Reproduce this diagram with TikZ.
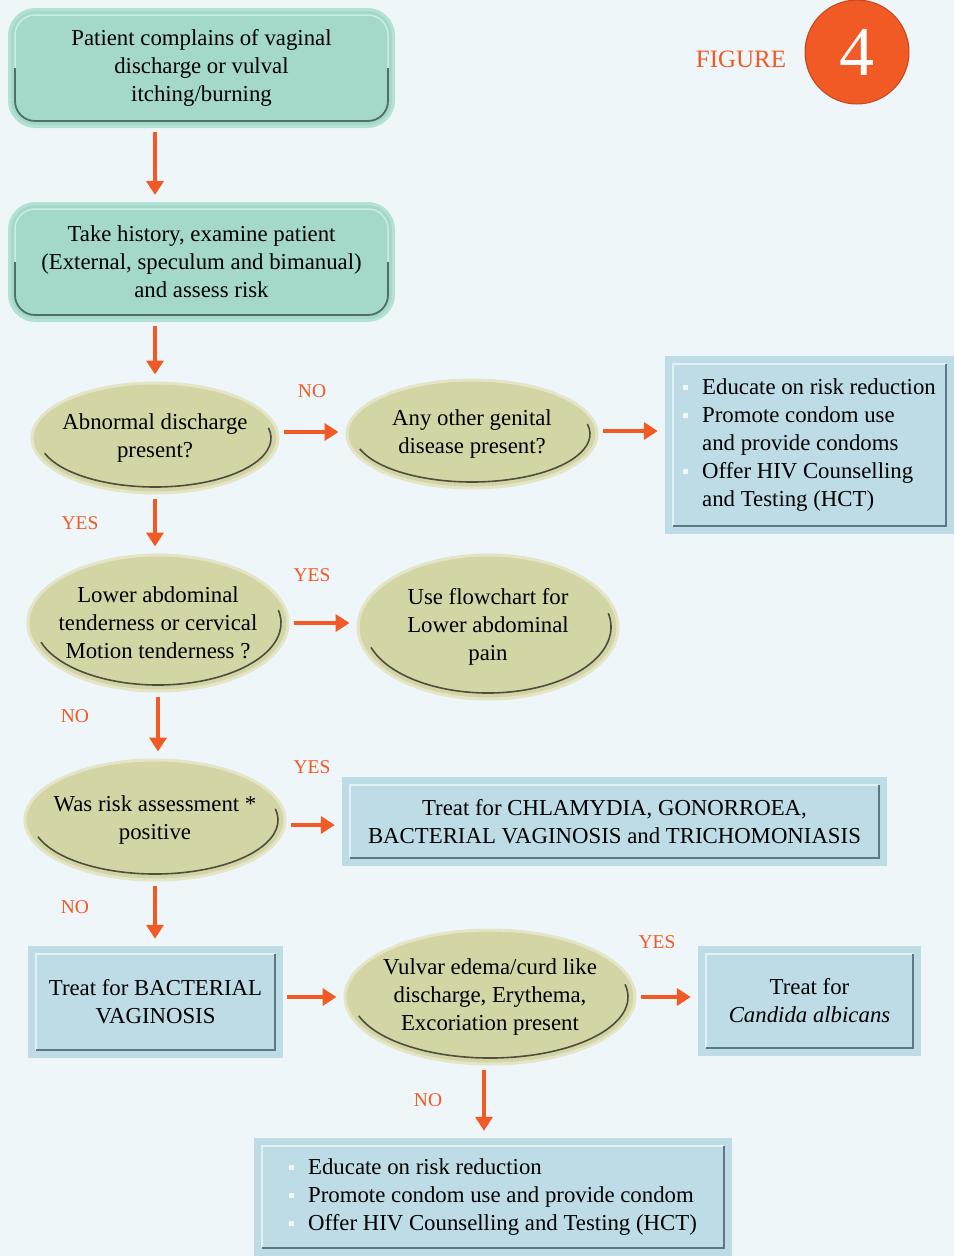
\documentclass[tikz,border=0pt]{standalone}
\usepackage{fontspec}
\setmainfont{Liberation Serif}
\usetikzlibrary{shapes.geometric,arrows.meta,calc}
\definecolor{bgc}{HTML}{EFF6FA}
\definecolor{tealfill}{HTML}{A3D8CA}
\definecolor{tealrim}{HTML}{B3E1D6}
\definecolor{tealdark}{HTML}{4F6F68}
\definecolor{teallight}{HTML}{C8EDE4}
\definecolor{ellfill}{HTML}{D4D5A5}
\definecolor{ellrim}{HTML}{E3E5C6}
\definecolor{elldark}{HTML}{4E4E40}
\definecolor{bluefill}{HTML}{BDDCE6}
\definecolor{bluedark}{HTML}{5D7880}
\definecolor{bluelight}{HTML}{E3F1F5}
\definecolor{arrowc}{HTML}{F15A24}
\definecolor{bulc}{HTML}{F2F8FA}
\newcommand\fz{\fontsize{22.8}{28}\selectfont}
\newcommand\bul{\makebox[19pt][l]{\raisebox{5pt}{\textcolor{bulc}{\rule{4.5pt}{4.5pt}}}}}
\newcommand\ellnode[6]{%
  \node[ell, minimum width={2*#4*1pt}, minimum height={2*#5*1pt}] (#1) at (#2,#3) {};
  \draw[elldark, line width=1.6pt] ([shift={(-162:{#4*1pt-7pt} and {#5*1pt-6pt})}]#1.center)
    arc[start angle=-162, end angle=12, x radius={#4*1pt-7pt}, y radius={#5*1pt-6pt}];
  \node[elltext] (#1-t) at (#1.center) {#6};
}
\newcommand\boxshade[1]{%
  \draw[line width=1.5pt, bluelight] ($(#1.south west)+(8pt,8pt)$) |- ($(#1.north east)+(-8pt,-8pt)$);
  \draw[line width=2pt, bluedark] ($(#1.south west)+(8pt,8pt)$) -| ($(#1.north east)+(-8pt,-8pt)$);
}
\newcommand\tealshade[1]{%
  \draw[teallight, line width=1.5pt, rounded corners=20pt] ($(#1.west)+(7pt,0)$) |- ($(#1.north east)+(-7pt,-7pt)$) -- ($(#1.east)+(-7pt,0)$);
  \draw[tealdark, line width=1.8pt, rounded corners=20pt] ($(#1.west)+(7pt,0)$) |- ($(#1.south east)+(-7pt,7pt)$) -- ($(#1.east)+(-7pt,0)$);
}
\tikzset{
  tealbox/.style={rectangle, rounded corners=26pt, fill=tealfill, draw=tealrim, line width=3pt,
    minimum width=384pt, minimum height=117pt, align=center, font=\fz, inner sep=0pt},
  ell/.style={ellipse, fill=ellfill, draw=ellrim, line width=3pt, inner sep=0pt},
  elltext/.style={align=center, inner sep=0pt, font=\fz},
  bluebox/.style={rectangle, fill=bluefill, align=center, font=\fz, inner sep=0pt},
  arr/.style={draw=arrowc, line width=4pt, -{Triangle[length=14pt,width=17pt]},
    shorten <=4pt, shorten >=7pt},
  lab/.style={text=arrowc, font=\fontsize{19.5}{20}\selectfont, inner sep=0pt}
}
\begin{document}
\begin{tikzpicture}[x=1pt,y=-1pt]
\fill[bgc] (0,0) rectangle (954,1256);
\useasboundingbox (0,0) rectangle (954,1256);

% figure badge
\node[text=arrowc, font=\fontsize{25}{26}\selectfont] (figlab) at (741,59) {FIGURE};
\node[circle, fill=arrowc, draw=arrowc!80!black, line width=1pt, minimum size=104pt, inner sep=0pt,
  text=white, font=\fontsize{70}{70}\selectfont] (fignum) at (857,52) {4};

% teal boxes
\node[tealbox] (t1) at (201.5,68) {Patient complains of vaginal\\discharge or vulval\\itching/burning};
\tealshade{t1}
\node[tealbox] (t2) at (201.5,262) {Take history, examine patient\\(External, speculum and bimanual)\\and assess risk};
\tealshade{t2}

% ellipses
\ellnode{e1}{155}{438}{123}{55}{Abnormal discharge\\present?}
\ellnode{e2}{472}{434}{125}{54}{Any other genital\\disease present?}
\ellnode{e3}{158}{623}{130}{68}{Lower abdominal\\tenderness or cervical\\Motion tenderness ?}
\ellnode{e4}{488}{627}{130}{72}{Use flowchart for\\Lower abdominal\\pain}
\ellnode{e5}{155}{820}{130}{60}{Was risk assessment *\\positive}
\ellnode{e6}{490}{997}{145}{67}{Vulvar edema/curd like\\discharge, Erythema,\\Excoriation present}

% blue boxes
\node[bluebox, minimum width=289pt, minimum height=178pt] (b1) at (809.5,445)
  {\begin{tabular}{@{}l@{}}\bul Educate on risk reduction\\ \bul Promote condom use\\ \phantom{\bul}and provide condoms\\ \bul Offer HIV Counselling\\ \phantom{\bul}and Testing (HCT)\end{tabular}};
\boxshade{b1}
\node[bluebox, minimum width=545pt, minimum height=89pt] (b2) at (614.5,821.5)
  {Treat for CHLAMYDIA, GONORROEA,\\BACTERIAL VAGINOSIS and TRICHOMONIASIS};
\boxshade{b2}
\node[bluebox, minimum width=255pt, minimum height=112pt] (b3) at (155.5,1002)
  {Treat for BACTERIAL\\VAGINOSIS};
\boxshade{b3}
\node[bluebox, minimum width=223pt, minimum height=110pt] (b4) at (809.5,1001)
  {Treat for\\\textit{Candida albicans}};
\boxshade{b4}
\node[bluebox, minimum width=478pt, minimum height=118pt] (b5) at (493,1197)
  {\begin{tabular}{@{}l@{}}\bul Educate on risk reduction\\ \bul Promote condom use and provide condom\\ \bul Offer HIV Counselling and Testing (HCT)\end{tabular}};
\boxshade{b5}

% connectors
\draw[arr] (t1.south -| e1.center) -- (t2.north -| e1.center);
\draw[arr] (t2.south -| e1.center) -- (e1.north);
\draw[arr] ([yshift=6pt]e1.east) -- ([yshift=6pt]e1.east -| e2.west);
\draw[arr] ([yshift=3pt]e2.east) -- ([yshift=3pt]e2.east -| b1.west);
\draw[arr] (e1.south) -- (e3.north -| e1.south);
\draw[arr] (e3.east) -- (e3.east -| e4.west);
\draw[arr] (e3.south) -- (e5.north -| e3.south);
\draw[arr] ([yshift=-5pt]e5.east) -- ([yshift=-5pt]e5.east -| b2.west);
\draw[arr] (e5.south) -- (b3.north -| e5.south);
\draw[arr] ([yshift=5pt]b3.east) -- ([yshift=5pt]b3.east -| e6.west);
\draw[arr] (e6.east) -- (e6.east -| b4.west);
\draw[arr] ([xshift=-6pt]e6.south) -- ([xshift=-6pt]e6.south |- b5.north);

% labels
\node[lab] (l1) at (312,391) {NO};
\node[lab] (l2) at (80,523) {YES};
\node[lab] (l3) at (312,575) {YES};
\node[lab] (l4) at (75,716) {NO};
\node[lab] (l5) at (312,767) {YES};
\node[lab] (l6) at (75,907) {NO};
\node[lab] (l7) at (657,942) {YES};
\node[lab] (l8) at (428,1100) {NO};
\end{tikzpicture}
\end{document}
